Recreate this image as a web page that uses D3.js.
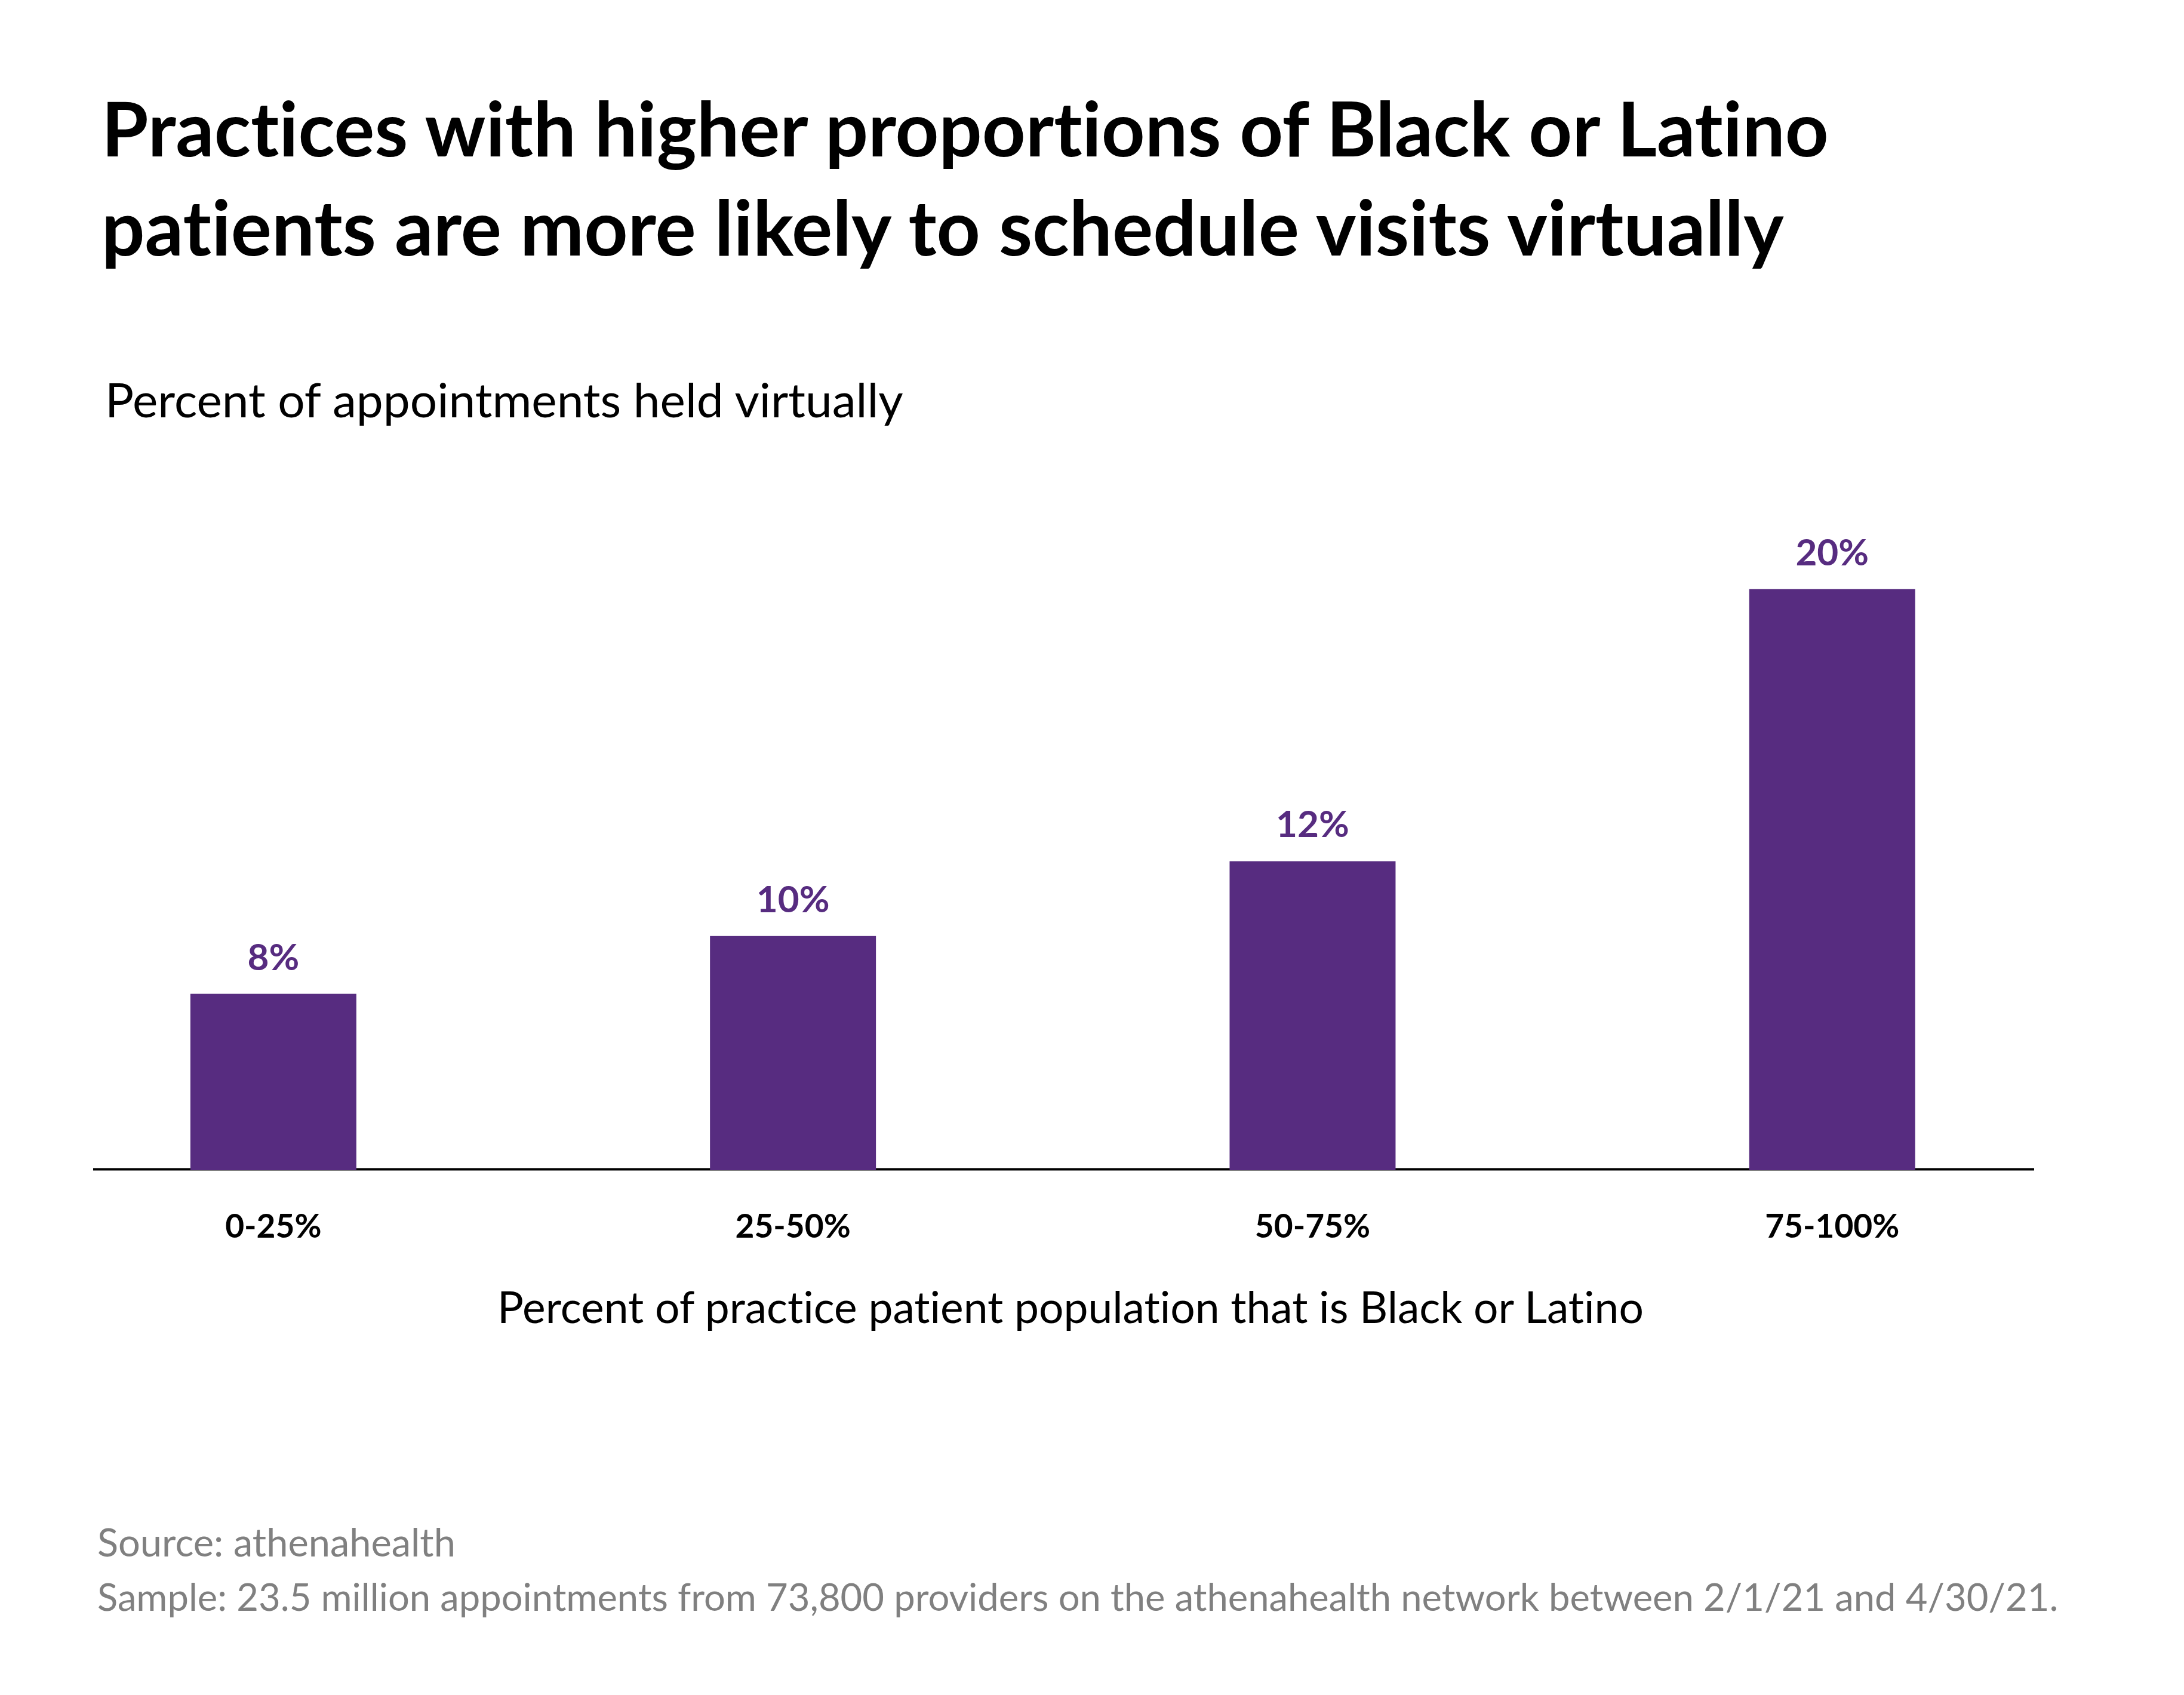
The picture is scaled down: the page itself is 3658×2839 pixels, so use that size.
<!DOCTYPE html>
<html>
<head>
<meta charset="utf-8">
<script src="https://cdn.jsdelivr.net/npm/d3@7"></script>
<style>
  html, body { margin: 0; padding: 0; background: #ffffff; }
  svg { display: block; }
  svg text { font-variant-ligatures: none; font-feature-settings: "liga" 0, "clig" 0; }
</style>
</head>
<body>
<script>
// ---- Data ----
const categories = ["0-25%", "25-50%", "50-75%", "75-100%"];
const virtualShare = [8.1, 9.8, 12.0, 20.0]; // percent of appointments held virtually
const titleLines = [
  "Practices with higher proportions of Black or Latino",
  "patients are more likely to schedule visits virtually"
];
const subtitle = "Percent of appointments held virtually";
const xTitle = "Percent of practice patient population that is Black or Latino";
const footerLines = [
  "Source: athenahealth",
  "Sample: 23.5 million appointments from 73,800 providers on the athenahealth network between 2/1/21 and 4/30/21."
];

// ---- Layout ----
const W = 3658, H = 2839;
const FONT = "Lato, 'Open Sans', sans-serif";
const PURPLE = "#572c80";

const svg = d3.select("body").append("svg")
  .attr("width", W).attr("height", H)
  .attr("viewBox", `0 0 ${W} ${H}`);

svg.append("rect").attr("width", W).attr("height", H).attr("fill", "#fff");

function fitWidth(sel, target) {
  const len = sel.node().getComputedTextLength();
  const fs = parseFloat(sel.attr("font-size"));
  sel.attr("font-size", fs * target / len);
}

// Title
const titleG = svg.append("g");
const tBase = [262, 428];
const tWidth = [2893, 2818];
titleLines.forEach((t, i) => {
  const s = titleG.append("text")
    .attr("x", 170).attr("y", tBase[i])
    .attr("font-family", FONT).attr("font-weight", 700)
    .attr("font-size", 120).attr("fill", "#000")
    .text(t);
  fitWidth(s, tWidth[i]);
});

// Subtitle
const sub = svg.append("text")
  .attr("x", 176).attr("y", 699)
  .attr("font-family", FONT).attr("font-weight", 400)
  .attr("font-size", 78).attr("fill", "#000")
  .text(subtitle);
fitWidth(sub, 1337);

// Scales
const x = d3.scaleBand()
  .domain(categories)
  .range([22.7, 3503.9])
  .paddingInner(0.6806)
  .paddingOuter(0.3403);

const y = d3.scaleLinear()
  .domain([2.94, 20])
  .range([1958.5, 986.8]);

// Axis baseline
const axisG = svg.append("g").attr("transform", `translate(0,${y(2.94)})`);
const xAxis = d3.axisBottom(x).tickSize(0).tickPadding(114);
axisG.call(xAxis);
axisG.select(".domain").remove();
axisG.append("line")
  .attr("x1", 156).attr("x2", 3407)
  .attr("y1", 0).attr("y2", 0)
  .attr("stroke", "#000").attr("stroke-width", 4);
axisG.selectAll(".tick text")
  .attr("font-family", FONT).attr("font-weight", 700)
  .attr("font-size", 55).attr("fill", "#000")
  .attr("dy", 0);

// Bars
svg.append("g").selectAll("rect")
  .data(virtualShare)
  .join("rect")
  .attr("x", (d, i) => x(categories[i]))
  .attr("width", x.bandwidth())
  .attr("y", d => y(d))
  .attr("height", d => y(2.94) - y(d) + 1.5)
  .attr("fill", PURPLE);

// Value labels
svg.append("g").selectAll("text")
  .data(virtualShare)
  .join("text")
  .attr("x", (d, i) => x(categories[i]) + x.bandwidth() / 2)
  .attr("y", d => y(d) - 40)
  .attr("text-anchor", "middle")
  .attr("font-family", FONT).attr("font-weight", 700)
  .attr("font-size", 62).attr("fill", PURPLE)
  .text(d => Math.round(d) + "%");

// X title
const xt = svg.append("text")
  .attr("x", 1793).attr("y", 2216)
  .attr("text-anchor", "middle")
  .attr("font-family", FONT).attr("font-weight", 400)
  .attr("font-size", 78).attr("fill", "#000")
  .text(xTitle);
fitWidth(xt, 1920);

// Footer
const fBase = [2607, 2698];
const fWidth = [600, 3285];
footerLines.forEach((t, i) => {
  const s = svg.append("text")
    .attr("x", 163).attr("y", fBase[i])
    .attr("font-family", FONT).attr("font-weight", 400)
    .attr("font-size", 66).attr("fill", "#808080")
    .text(t);
  fitWidth(s, fWidth[i]);
});
</script>
</body>
</html>
